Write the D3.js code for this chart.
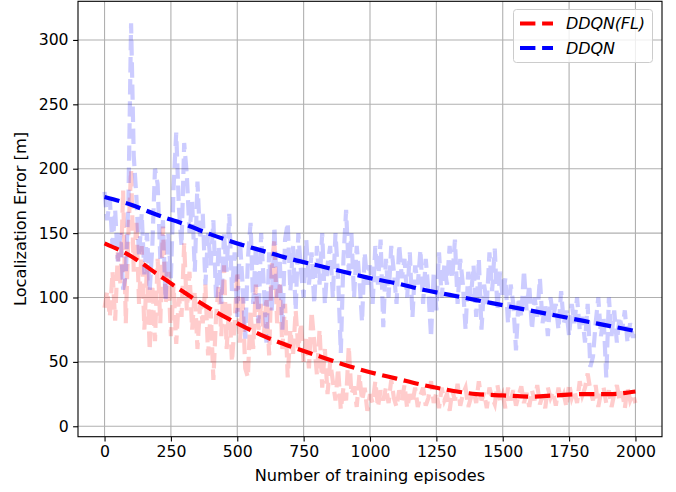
<!DOCTYPE html>
<meta charset="utf-8">
<script src="https://d3js.org/d3.v7.min.js"></script>
<style>
  body { margin: 0; background: #fff; }
  text { font-family: "DejaVu Sans", sans-serif; }
</style>
<svg width="676" height="492"></svg>
<script>
// raw episodes, every 10 episodes from 0 to 2000
var step = 10;

var ddqnRaw = [
  182, 160, 176, 140, 168, 128, 150, 106, 118, 175,
  313, 210, 178, 132, 165, 118, 150, 105, 140, 200,
  188, 130, 160, 98, 150, 115, 185, 228, 170, 140,
  220, 195, 150, 175, 120, 190, 145, 165, 110, 150,
  125, 160, 100, 140, 95, 150, 120, 165, 105, 135,
  85, 145, 110, 68, 130, 158, 95, 140, 80, 150,
  110, 65, 135, 90, 155, 100, 130, 75, 145, 158,
  105, 140, 90, 150, 120, 100, 145, 110, 135, 95,
  140, 110, 150, 95, 125, 140, 100, 150, 115, 57,
  130, 168, 120, 150, 100, 140, 115, 81, 135, 110,
  125, 95, 140, 110, 145, 77, 130, 100, 140, 120,
  95, 141, 115, 130, 100, 135, 85, 125, 110, 137,
  95, 130, 105, 69, 120, 90, 135, 100, 125, 110,
  140, 115, 145, 95, 130, 110, 75, 120, 100, 125,
  85, 130, 75, 110, 95, 135, 105, 138, 90, 120,
  100, 115, 80, 110, 95, 59, 100, 85, 121, 90,
  110, 75, 100, 85, 115, 80, 95, 70, 100, 85,
  95, 75, 105, 80, 90, 70, 95, 80, 100, 75,
  85, 65, 95, 46, 54, 80, 100, 70, 85, 38,
  100, 70, 90, 65, 85, 75, 90, 65, 80, 70,
  70
];

var flRaw = [
  92, 105, 85, 120, 82, 135, 110, 183, 80, 150,
  199, 120, 160, 95, 140, 75, 125, 59, 110, 66,
  130, 80, 155, 95, 120, 70, 110, 64, 100, 85,
  142, 90, 120, 75, 105, 60, 95, 80, 110, 55,
  90, 36, 85, 110, 70, 125, 60, 95, 50, 80,
  120, 65, 100, 45, 38, 90, 60, 110, 75, 95,
  70, 100, 55, 125, 145, 80, 110, 60, 95, 38,
  75, 55, 90, 60, 80, 50, 70, 45, 89, 65,
  40, 75, 30, 60, 25, 50, 35, 20, 45, 13,
  30, 20, 62, 25, 31, 15, 40, 20, 30, 12,
  25, 18, 35, 15, 28, 20, 30, 18, 36, 22,
  15, 28, 20, 32, 14, 25, 18, 30, 15, 24,
  30, 16, 22, 35, 18, 26, 14, 30, 20, 25,
  12, 28, 20, 33, 16, 25, 30, 15, 22, 28,
  18, 35, 20, 26, 14, 30, 22, 17, 32, 20,
  25, 14, 30, 20, 28, 16, 24, 31, 18, 26,
  15, 28, 20, 32, 17, 24, 14, 30, 22, 27,
  16, 30, 20, 25, 15, 33, 22, 28, 18, 35,
  24, 30, 41, 28, 20, 32, 15, 26, 30, 18,
  28, 15, 25, 32, 20, 27, 14, 30, 20, 25,
  18
];

// smoothed trends, every 100 episodes
var trendEpisodes = d3.range(0, 2001, 100);
var ddqnTrend = [178, 172, 164, 157, 149, 142, 136, 130, 125, 120, 115,
                 111, 106, 102, 98, 94, 90, 86, 82, 78, 74];
var flTrend = [142, 132, 118, 104, 91, 80, 70, 62, 55, 48, 42,
               37, 32, 28, 25, 24, 23, 24, 25, 25, 27];

var xTicks = d3.range(0, 2001, 250);
var yTicks = d3.range(0, 301, 50);

var svg = d3.select("svg");
var pLeft = 78, pRight = 662, pTop = 1.3, pBottom = 436.7;

var x = d3.scaleLinear().domain([-100, 2100]).range([pLeft, pRight]);
var y = d3.scaleLinear().domain([-8.1, 330]).range([pBottom, pTop]);

// grid
svg.append("g").selectAll("line").data(xTicks).enter().append("line")
    .attr("x1", d => x(d)).attr("x2", d => x(d))
    .attr("y1", pTop).attr("y2", pBottom)
    .style("stroke", "#b0b0b0").style("stroke-width", 1.1);
svg.append("g").selectAll("line").data(yTicks).enter().append("line")
    .attr("x1", pLeft).attr("x2", pRight)
    .attr("y1", d => y(d)).attr("y2", d => y(d))
    .style("stroke", "#b0b0b0").style("stroke-width", 1.1);

var dash = "15.4 6.7";
var lw = 4.2;

var rawLine = d3.line()
    .x((d, i) => x(i * step))
    .y(d => y(d));
var trendLine = d3.line()
    .x((d, i) => x(trendEpisodes[i]))
    .y(d => y(d))
    .curve(d3.curveMonotoneX);

var plot = svg.append("g");

plot.append("path").datum(flRaw)
    .attr("d", rawLine)
    .style("fill", "none").style("stroke", "#ff0000").style("stroke-opacity", 0.2)
    .style("stroke-width", lw).style("stroke-dasharray", dash);
plot.append("path").datum(ddqnRaw)
    .attr("d", rawLine)
    .style("fill", "none").style("stroke", "#0000ff").style("stroke-opacity", 0.2)
    .style("stroke-width", lw).style("stroke-dasharray", dash);

plot.append("path").datum(flTrend)
    .attr("d", trendLine)
    .style("fill", "none").style("stroke", "#ff0000")
    .style("stroke-width", lw).style("stroke-dasharray", dash);
plot.append("path").datum(ddqnTrend)
    .attr("d", trendLine)
    .style("fill", "none").style("stroke", "#0000ff")
    .style("stroke-width", lw).style("stroke-dasharray", dash);

// axes
var xAxis = svg.append("g")
    .attr("transform", "translate(0," + pBottom + ")")
    .call(d3.axisBottom(x).tickValues(xTicks).tickSize(4.9).tickPadding(4.5).tickFormat(d3.format("d")));
var yAxis = svg.append("g")
    .attr("transform", "translate(" + pLeft + ",0)")
    .call(d3.axisLeft(y).tickValues(yTicks).tickSize(4.9).tickPadding(4.5).tickFormat(d3.format("d")));

[xAxis, yAxis].forEach(function(a) {
  a.select(".domain").remove();
  a.selectAll(".tick line").style("stroke", "#000").style("stroke-width", 1.1);
  a.selectAll(".tick text").style("font-size", "15.7px").style("fill", "#000")
    .style("font-family", "'DejaVu Sans', sans-serif");
});

svg.append("rect")
    .attr("x", pLeft).attr("y", pTop)
    .attr("width", pRight - pLeft).attr("height", pBottom - pTop)
    .style("fill", "none").style("stroke", "#000").style("stroke-width", 1.1);

svg.append("text")
    .attr("x", (pLeft + pRight) / 2).attr("y", 481)
    .attr("text-anchor", "middle")
    .style("font-size", "16.2px")
    .text("Number of training episodes");
svg.append("text")
    .attr("transform", "translate(26," + ((pTop + pBottom) / 2) + ") rotate(-90)")
    .attr("text-anchor", "middle")
    .style("font-size", "16.2px")
    .text("Localization Error [m]");

// legend
var legend = svg.append("g");
legend.append("rect")
    .attr("x", 513.5).attr("y", 9.5).attr("width", 139).attr("height", 53).attr("rx", 3)
    .style("fill", "#fff").style("fill-opacity", 0.8)
    .style("stroke", "#cccccc").style("stroke-width", 1);
var entries = [
  {name: "DDQN(FL)", color: "#ff0000", len: 79},
  {name: "DDQN", color: "#0000ff", len: 49}
];
entries.forEach(function(e, i) {
  var ly = 23.5 + i * 24.5;
  legend.append("line")
      .attr("x1", 520).attr("x2", 553).attr("y1", ly).attr("y2", ly)
      .style("stroke", e.color).style("stroke-width", lw).style("stroke-dasharray", dash);
  legend.append("text")
      .attr("x", 566).attr("y", ly + 5.5)
      .attr("textLength", e.len).attr("lengthAdjust", "spacing")
      .style("font-size", "16px").style("font-style", "italic")
      .text(e.name);
});
</script>
